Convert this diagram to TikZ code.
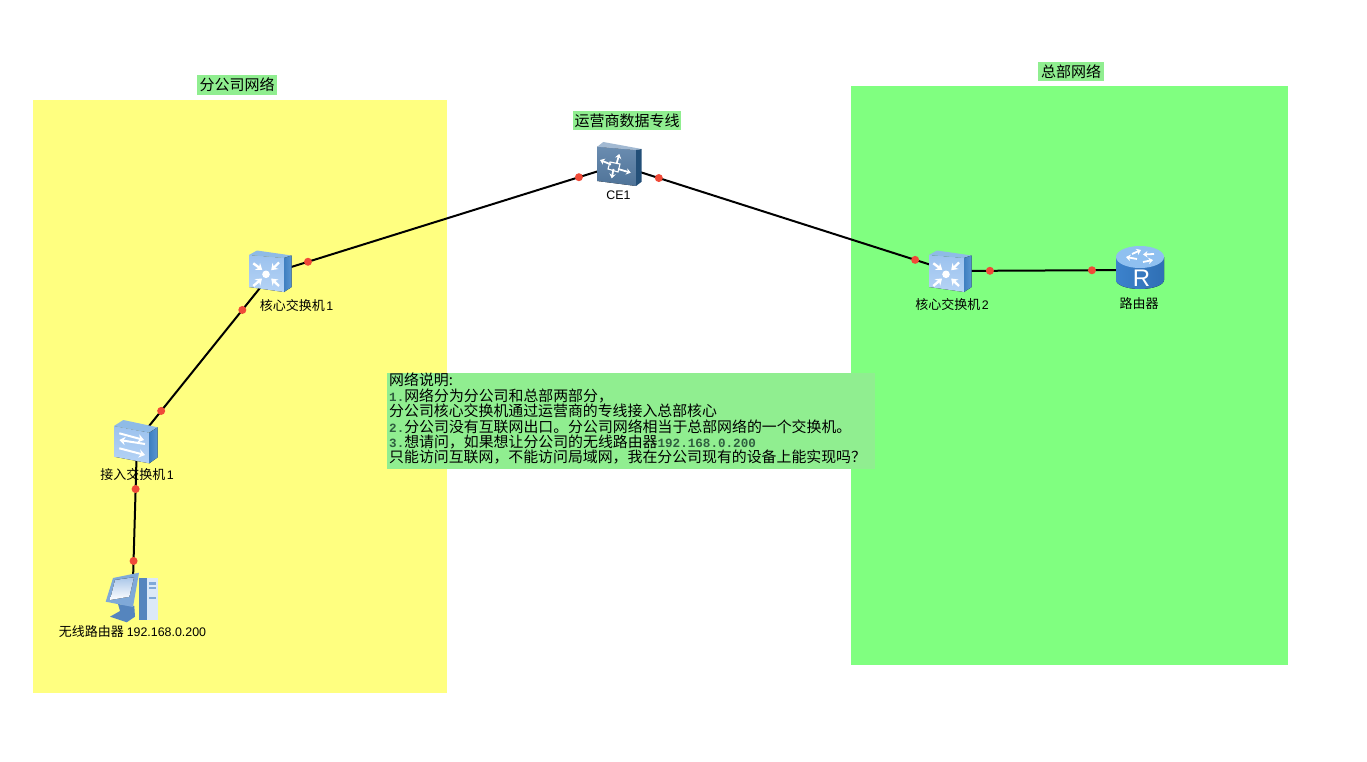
\documentclass[tikz,border=0pt]{standalone}
\usepackage{fontspec}
\setmainfont{Noto Sans CJK SC}
\newfontfamily\lsans{Liberation Sans}
\newfontfamily\lmono{Liberation Mono}
\usetikzlibrary{arrows.meta}
\definecolor{zoneY}{HTML}{FFFF80}
\definecolor{zoneG}{HTML}{80FF80}
\definecolor{tagG}{HTML}{90EE90}
\definecolor{dotR}{HTML}{F04A38}
\definecolor{monoG}{HTML}{2F5F3F}
\definecolor{swA}{HTML}{9CC2EE}
\definecolor{swB}{HTML}{B5D3F5}
\definecolor{swTop}{HTML}{8FBBE6}
\definecolor{swR}{HTML}{3F7FC0}
\definecolor{swRb}{HTML}{5A96D2}
\definecolor{ceA}{HTML}{6A8CB0}
\definecolor{ceB}{HTML}{4F7398}
\definecolor{ceTop}{HTML}{A2B9D2}
\definecolor{ceR}{HTML}{234F78}
\definecolor{rtA}{HTML}{3C82CC}
\definecolor{rtB}{HTML}{8CC0F0}
\definecolor{rtC}{HTML}{2F6FB4}
\definecolor{rtTop}{HTML}{8FC0F0}
\definecolor{pcA}{HTML}{7FA9D8}
\definecolor{pcB}{HTML}{5585BE}
\definecolor{pcC}{HTML}{DCE9F8}
\definecolor{pcD}{HTML}{A9C6E8}
\tikzset{
  x=1pt,y=-1pt,
  zone/.style={draw=none,anchor=north west,inner sep=0},
  link/.style={line width=2pt,black},
  dot/.style={circle,fill=dotR,draw=none,minimum size=8pt,inner sep=0},
  anchorbox/.style={inner sep=0,minimum width=40pt,minimum height=40pt},
  tag/.style={fill=tagG,inner sep=0,minimum height=19.5pt,font=\fontsize{15}{15}\selectfont,text=black},
  devlabel/.style={inner sep=0,font=\fontsize{13}{14}\selectfont,text=black},
  notebox/.style={fill=tagG,anchor=north west,inner xsep=2pt,inner ysep=0pt,text width=484pt,minimum height=95pt,align=left,font=\fontsize{14.9}{15.4}\selectfont,text=black},
  wa/.style={white,line width=2.4pt,-{Stealth[length=6pt,width=8.5pt]}},
  wb/.style={white,line width=1.8pt,-{Stealth[length=4.5pt,width=6.5pt]}},
  coresw/.pic={
    \fill[top color=swA,bottom color=swB] (-21,-16)--(14,-13)--(14,21)--(-21,16)--cycle;
    \fill[swTop] (-21,-16)--(-13,-20.5)--(21.7,-15.5)--(14,-13)--cycle;
    \fill[left color=swR,right color=swRb] (14,-13)--(21.7,-15.5)--(21.7,16)--(14,21)--cycle;
    \fill[white] (-4,3.3) circle (3.8);
    \draw[wa] (-16.7,-7.7)--(-7.7,-1);
    \draw[wa] (9,-8.5)--(1.2,-0.8);
    \draw[wa] (-16.7,15)--(-8,7.5);
    \draw[wa] (9,15)--(1.2,7.5);
  },
  accesssw/.pic={
    \fill[top color=swA,bottom color=swB] (-22,-15)--(13.3,-8.3)--(13.3,22.3)--(-22,15.7)--cycle;
    \fill[swTop] (-22,-15)--(-12.7,-21)--(21.7,-13.7)--(13.3,-8.3)--cycle;
    \fill[left color=swR,right color=swRb] (13.3,-8.3)--(21.7,-13.7)--(21.7,16.3)--(13.3,22.3)--cycle;
    \draw[wa,line width=2pt] (-16.7,-7.7)--(8,-1);
    \draw[wa,line width=2pt] (9,3)--(-16.7,-1);
    \draw[wa,line width=2pt] (-16.7,7.3)--(9,14);
  },
  cesw/.pic={
    \fill[top color=ceA,bottom color=ceB] (-20.7,-16.3)--(18,-13)--(18,23)--(-20.7,18)--cycle;
    \fill[ceTop] (-20.7,-16.3)--(-14.7,-21)--(23.7,-14)--(18,-13)--cycle;
    \fill[ceR] (18,-13)--(23.7,-14)--(23.7,18.7)--(18,23)--cycle;
    \draw[wb] (-7,1.5)--(-18,-3);
    \draw[wb] (0,6)--(12.7,9.7);
    \draw[wb] (-1.5,1)--(1.3,-9);
    \draw[wb] (-4.5,6)--(-6.3,15.3);
    \draw[white,line width=1.1pt] (-8,-1)--(2,1)--(0,9)--(-10,6)--cycle;
  },
  routerdev/.pic={
    \fill[left color=rtA,middle color=rtB,right color=rtC] (-24,-11) -- (-24,12) arc[start angle=180,end angle=360,x radius=24,y radius=-9] -- (24,-11) -- cycle;
    \fill[rtTop] (0,-11) ellipse (24 and 11);
    \draw[wb] (-3,-9)--(-14,-11);
    \draw[wb] (-8,-14)--(1,-18);
    \draw[wb] (3,-6)--(13,-8);
    \draw[wb] (14,-14)--(3,-13.5);
    \node[text=white,inner sep=0,font=\lsans\fontsize{24}{24}\selectfont] at (1.5,10) {R};
  },
  pcdev/.pic={
    \fill[pcB] (7,-19.7)--(15.3,-19.7)--(15.3,22)--(7,22)--cycle;
    \fill[pcC] (15.3,-19.7) rectangle (25.7,22);
    \fill[pcA] (17,-16) rectangle (24,-13.5);
    \fill[pcA] (17,-11) rectangle (24,-9);
    \fill[pcA] (17,-1) rectangle (24,0.5);
    \fill[pcB] (-14,6)--(2.3,8)--(3,18.7)--(-5.3,24.3)--(-22,18.7)--(-12,13)--cycle;
    \fill[pcA] (-19,-20)--(7,-25.3)--(1,9)--(-26.3,3.7)--cycle;
    \fill[top color=pcD,bottom color=white] (-17,-18)--(2,-20.7)--(-2.7,-1.3)--(-22,2)--cycle;
  }
}
\newcommand{\ls}[1]{{\lsans\fontsize{12.4}{14}\selectfont #1}}
\newcommand{\lm}[1]{{\lmono\bfseries\color{monoG}\fontsize{12.6}{15}\selectfont #1}}
\begin{document}
\begin{tikzpicture}
\useasboundingbox (0,0) rectangle (1367,762);
\fill[white] (0,0) rectangle (1367,762);
\node[zone,fill=zoneY,minimum width=414pt,minimum height=593pt] (branch) at (33,100) {};
\node[zone,fill=zoneG,minimum width=437pt,minimum height=579pt] (hq) at (851,86) {};

\node[anchorbox] (core1) at (272,273) {};
\node[anchorbox] (access) at (137,441) {};
\node[anchorbox] (pc) at (132.5,598) {};
\node[anchorbox] (ce) at (618,165) {};
\node[anchorbox] (core2) at (950,271) {};
\node[anchorbox] (router) at (1140,270) {};

\draw[link] (core1.center) -- node[pos=.104,dot]{} node[pos=.887,dot]{} (ce.center);
\draw[link] (core1.center) -- node[pos=.22,dot]{} node[pos=.821,dot]{} (access.center);
\draw[link] (access.center) -- node[pos=.306,dot]{} node[pos=.764,dot]{} (pc.center);
\draw[link] (ce.center) -- node[pos=.123,dot]{} node[pos=.895,dot]{} (core2.center);
\draw[link] (core2.center) -- node[pos=.21,dot]{} node[pos=.747,dot]{} (router.center);

\pic at (270,271) {coresw};
\pic at (136,441) {accesssw};
\pic at (132,598) {pcdev};
\pic at (618,163) {cesw};
\pic at (950,271) {coresw};
\pic at (1140,268) {routerdev};

\node[tag,minimum width=80pt] (tagbranch) at (237,85) {分公司网络};
\node[tag,minimum width=66pt] (taghq) at (1071,71.5) {总部网络};
\node[tag,minimum width=108pt] (tagce) at (627,120.5) {运营商数据专线};

\node[devlabel] (lcore1) at (296.5,305.5) {核心交换机\hspace{1.5pt}\ls{1}};
\node[devlabel] (laccess) at (137,474.5) {接入交换机\hspace{1.5pt}\ls{1}};
\node[devlabel] (lpc) at (132.5,631.5) {无线路由器 \ls{192.168.0.200}};
\node[devlabel] (lce) at (618.5,195) {\ls{CE1}};
\node[devlabel] (lcore2) at (952,304.5) {核心交换机\hspace{1.5pt}\ls{2}};
\node[devlabel] (lrouter) at (1139,303.5) {路由器};

\node[notebox] (note) at (387,373) {网络说明:\\
\lm{1.}网络分为分公司和总部两部分，\\
分公司核心交换机通过运营商的专线接入总部核心\\
\lm{2.}分公司没有互联网出口。分公司网络相当于总部网络的一个交换机。\\
\lm{3.}想请问，如果想让分公司的无线路由器\lm{192.168.0.200}\\
只能访问互联网，不能访问局域网，我在分公司现有的设备上能实现吗？\rule[-6.5pt]{0pt}{0pt}};
\end{tikzpicture}
\end{document}
